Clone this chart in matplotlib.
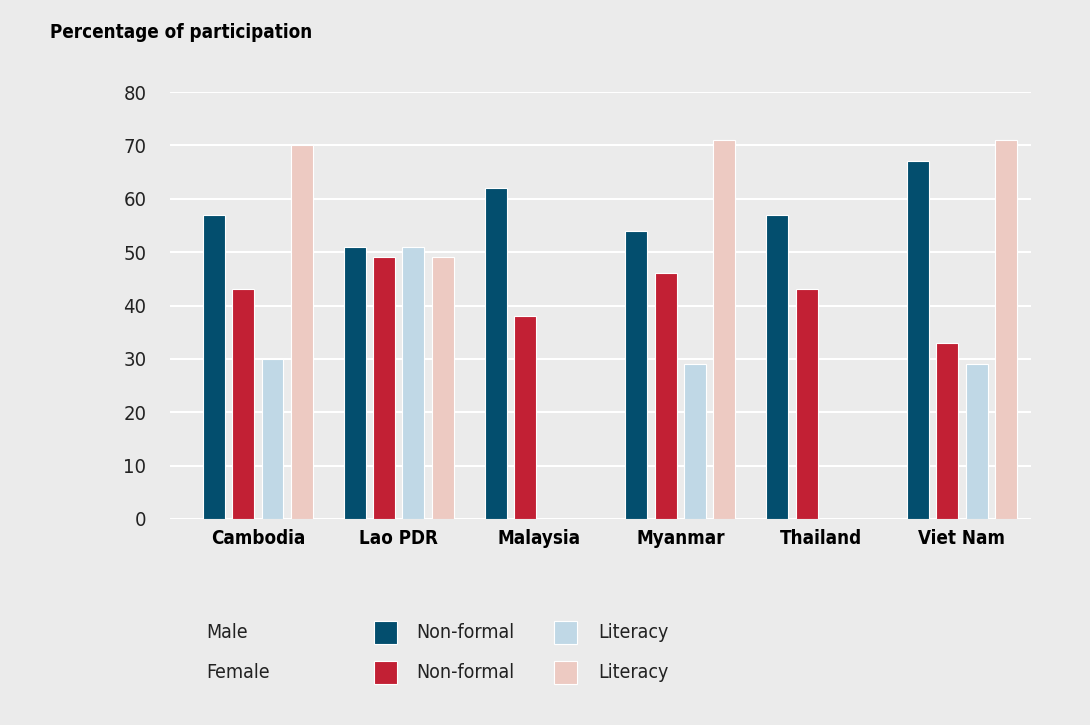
import matplotlib.pyplot as plt
import numpy as np
from matplotlib.patches import Rectangle

plt.rcParams['font.family'] = ['DejaVu Sans']
plt.rcParams['font.stretch'] = 'condensed'

# data
countries = ["Cambodia", "Lao PDR", "Malaysia", "Myanmar", "Thailand", "Viet Nam"]
male_nonformal = [57, 51, 62, 54, 57, 67]
female_nonformal = [43, 49, 38, 46, 43, 33]
male_literacy = [30, 51, np.nan, 29, np.nan, 29]
female_literacy = [70, 49, np.nan, 71, np.nan, 71]
yticks = [0, 10, 20, 30, 40, 50, 60, 70, 80]

BG = "#ebebeb"
TXT = "#222222"
colors = ["#034e6e", "#c22034", "#c0d8e6", "#edcac2"]
series = [male_nonformal, female_nonformal, male_literacy, female_literacy]

fig = plt.figure(figsize=(10.9, 7.25), dpi=100, facecolor=BG)
ax = fig.add_axes([170 / 1090, 1 - 519 / 725, (1031 - 170) / 1090, (519 - 92) / 725])
ax.set_facecolor(BG)

x = np.arange(len(countries))
step = 29.3 / 141
width = 22 / 141
for i, (vals, c) in enumerate(zip(series, colors)):
    ax.bar(x + (i - 1.5) * step, vals, width, color=c, edgecolor="white",
           linewidth=0.8, zorder=3)

ax.set_ylim(0, 80)
ax.set_xlim(-0.624, 5.49)
ax.set_yticks(yticks)
ax.yaxis.grid(True, color="white", linewidth=1.5, zorder=0)
ax.set_axisbelow(True)
for s in ax.spines.values():
    s.set_visible(False)
ax.tick_params(axis="y", length=0, pad=17, labelsize=14.5, labelcolor=TXT)
ax.tick_params(axis="x", length=0, pad=7)
ax.set_xticks(x)
ax.set_xticklabels(countries, fontsize=13.5, fontweight="bold")

fig.text(50 / 1090, 1 - 33 / 725, "Percentage of participation", fontsize=13.5,
         fontweight="bold", va="center", ha="left")

# legend
rows = [("Male", colors[0], colors[2], 632), ("Female", colors[1], colors[3], 672)]
for label, c1, c2, yc in rows:
    yf = 1 - yc / 725
    fig.text(206 / 1090, yf, label, fontsize=14, va="center", color=TXT)
    for xl, c in [(374, c1), (554, c2)]:
        fig.patches.append(Rectangle((xl / 1090, yf - 11.5 / 725), 23 / 1090, 23 / 725,
                                     transform=fig.transFigure, facecolor=c,
                                     edgecolor="white", linewidth=0.8))
    fig.text(416 / 1090, yf, "Non-formal", fontsize=14, va="center", color=TXT)
    fig.text(598 / 1090, yf, "Literacy", fontsize=14, va="center", color=TXT)

fig.savefig("out.png", dpi=100, facecolor=BG)
